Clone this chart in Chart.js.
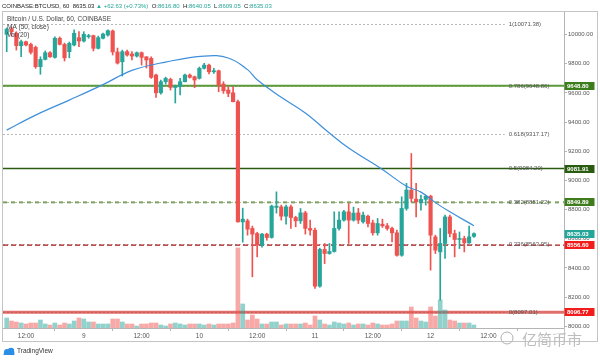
<!DOCTYPE html>
<html>
<head>
<meta charset="utf-8">
<script src="https://cdn.jsdelivr.net/npm/chart.js@4.4.1/dist/chart.umd.min.js"></script>
<style>
html, body { margin: 0; padding: 0; background: #ffffff; }
#wrap { width: 600px; height: 360px; position: relative; }
</style>
</head>
<body>
<div id="wrap"><canvas id="btc-chart" width="600" height="360"></canvas></div>
<script>
// Hourly candles, x = hours since Dec 8 00:00
const hours = [8, 9, 10, 11, 12, 13, 14, 15, 16, 17, 18, 19, 20, 21, 22, 23, 24, 25, 26, 27,
  28, 29, 30, 31, 32, 33, 34, 35, 36, 37, 38, 39, 40, 41, 42, 43, 44, 45, 46, 47,
  48, 49, 50, 51, 52, 53, 54, 55, 56, 57, 58, 59, 60, 61, 62, 63, 64, 65, 66, 67,
  68, 69, 70, 71, 72, 73, 74, 75, 76, 77, 78, 79, 80, 81, 82, 83, 84, 85, 86, 87,
  88, 89, 90, 91, 92, 93, 94, 95, 96, 97, 98, 99, 100, 101, 102, 103, 104, 105];

const opens = [10002, 10038, 10009, 9924, 9951, 9933, 9913, 9780, 9830, 9876, 9844, 9975, 9933, 9883, 9929, 9979, 9956, 9986, 9993, 9906,
  9975, 9997, 10025, 9881, 9814, 9883, 9867, 9853, 9876, 9848, 9837, 9723, 9601, 9677, 9693, 9637, 9643, 9677, 9723, 9711,
  9700, 9769, 9791, 9745, 9752, 9661, 9620, 9601, 9540, 8716, 8723, 8671, 8636, 8556, 8632, 8609, 8815, 8819, 8755, 8819,
  8746, 8723, 8778, 8671, 8659, 8275, 8527, 8499, 8513, 8671, 8728, 8785, 8728, 8778, 8716, 8755, 8709, 8641, 8700, 8689,
  8671, 8641, 8487, 8808, 8934, 8872, 8851, 8870, 8892, 8613, 8510, 8568, 8750, 8636, 8595, 8602, 8572, 8616.80];
const highs = [10045, 10052, 10020, 9963, 9956, 9942, 9922, 9848, 9888, 9884, 9984, 9984, 9942, 9949, 10032, 10020, 10020, 10002, 9997, 9990,
  10011, 10032, 10032, 9908, 9894, 9894, 9883, 9881, 9881, 9848, 9848, 9730, 9689, 9709, 9702, 9654, 9700, 9730, 9730, 9716,
  9778, 9803, 9798, 9769, 9757, 9677, 9643, 9643, 9551, 8810, 8735, 8687, 8645, 8638, 8638, 8831, 8922, 8831, 8831, 8831,
  8755, 8808, 8789, 8728, 8673, 8536, 8568, 8568, 8785, 8785, 8796, 8842, 8817, 8808, 8783, 8762, 8728, 8739, 8735, 8705,
  8680, 8659, 8888, 8980, 9185, 8980, 8899, 8899, 8899, 8625, 8671, 8762, 8762, 8659, 8647, 8618, 8687, 8640.05];
const lows = [9883, 9990, 9894, 9848, 9922, 9867, 9769, 9728, 9826, 9843, 9839, 9929, 9819, 9841, 9922, 9917, 9949, 9975, 9888, 9901,
  9970, 9990, 9860, 9798, 9716, 9853, 9826, 9846, 9791, 9771, 9700, 9570, 9592, 9661, 9620, 9531, 9586, 9675, 9702, 9636,
  9695, 9764, 9730, 9734, 9608, 9597, 9574, 9538, 8714, 8577, 8625, 8339, 8476, 8542, 8590, 8604, 8776, 8728, 8700, 8671,
  8682, 8705, 8632, 8625, 8259, 8268, 8430, 8494, 8508, 8659, 8721, 8568, 8721, 8705, 8707, 8682, 8625, 8625, 8678, 8659,
  8579, 8480, 8480, 8796, 8853, 8750, 8796, 8831, 8385, 8499, 8179, 8465, 8613, 8476, 8533, 8510, 8568, 8609.05];
const closes = [10038, 10020, 9924, 9951, 9929, 9879, 9780, 9830, 9876, 9848, 9975, 9933, 9841, 9940, 10009, 9956, 10002, 9993, 9906, 9979,
  10004, 10027, 9881, 9805, 9883, 9860, 9853, 9876, 9844, 9826, 9707, 9601, 9677, 9700, 9638, 9643, 9677, 9723, 9707, 9689,
  9769, 9791, 9745, 9752, 9654, 9615, 9597, 9540, 8716, 8735, 8666, 8632, 8556, 8632, 8609, 8824, 8824, 8755, 8819, 8746,
  8723, 8778, 8671, 8659, 8275, 8527, 8499, 8513, 8671, 8728, 8785, 8728, 8776, 8728, 8762, 8705, 8641, 8705, 8689, 8671,
  8641, 8487, 8808, 8934, 8877, 8853, 8870, 8892, 8625, 8522, 8568, 8750, 8636, 8595, 8602, 8572, 8613, 8635.03];
const volumes = [500, 350, 300, 250, 200, 250, 250, 400, 200, 150, 250, 150, 250, 200, 350, 500, 450, 300, 300, 200,
  200, 200, 450, 450, 300, 200, 200, 100, 200, 200, 250, 250, 150, 100, 200, 250, 200, 150, 200, 200,
  200, 150, 200, 150, 200, 200, 200, 250, 4000, 1200, 400, 650, 450, 200, 200, 300, 300, 150, 200, 200,
  200, 200, 250, 150, 600, 400, 200, 150, 300, 250, 200, 250, 150, 200, 200, 150, 250, 200, 150, 150,
  200, 350, 350, 350, 1050, 500, 350, 300, 1050, 600, 1400, 900, 400, 350, 250, 250, 250, 150];

// MA(50, close)
const maHours = [8, 14, 21, 28, 34, 41, 49, 54, 58, 60, 65, 70, 75, 79, 86, 91, 94, 97, 100, 105];
const maValues = [9345, 9448, 9551, 9657, 9755, 9812, 9853, 9840, 9760, 9690, 9570, 9463, 9325, 9222, 9075, 8960, 8920, 8848, 8785, 8690];

const priceTicks = [8000, 8200, 8400, 8600, 8800, 9000, 9200, 9400, 9600, 9800, 10000];
const timeTickHours = [12, 24, 36, 48, 60, 72, 84, 96, 108];
const timeTickLabels = ['12:00', '9', '12:00', '10', '12:00', '11', '12:00', '12', '12:00'];

const fibRatios = ['1', '0.786', '0.618', '0.5', '0.382', '0.236', '0'];
const fibPrices = [10071.38, 9648.86, 9317.17, 9084.20, 8851.22, 8563.95, 8097.01];

const levelPrices = [9648.80, 9081.91, 8849.89, 8556.60, 8096.77];
const lastPrice = 8635.03;

// styles
const UP = '#26a69a';
const DOWN = '#ef5350';
const FONT = '"Liberation Sans", Arial, sans-serif';
const fibEndHour = 111.4;
const levelStyles = [
  { color: '#5a9a38', width: 2, dash: [], box: '#3a7d1a' },
  { color: '#2a5c10', width: 1.5, dash: [], box: '#2a5c10' },
  { color: '#7aa35a', width: 2, dash: [4, 4], box: '#3f7d1c' },
  { color: '#a81818', width: 1.3, dash: [5, 3], box: '#f21c1c' },
  { color: 'rgba(214, 62, 58, 0.75)', width: 3, dash: [], box: '#f21c1c' }
];

const isUp = closes.map((c, i) => c >= opens[i]);
const candleColors = isUp.map(u => u ? UP : DOWN);
const volColors = isUp.map(u => u ? 'rgba(38, 166, 154, 0.5)' : 'rgba(239, 83, 80, 0.5)');

function line(ctx, x1, y1, x2, y2) {
  ctx.beginPath();
  ctx.moveTo(x1, y1);
  ctx.lineTo(x2, y2);
  ctx.stroke();
}

function box(ctx, yPix, text, bg) {
  const yc = Math.round(yPix);
  ctx.fillStyle = bg;
  ctx.fillRect(564.5, yc - 4, 30, 8);
  ctx.fillStyle = '#ffffff';
  ctx.font = 'bold 6px ' + FONT;
  ctx.textAlign = 'left';
  ctx.textBaseline = 'middle';
  ctx.fillText(text, 567, yc + 0.5);
}

const decor = {
  id: 'decor',
  beforeDatasetsDraw(chart) {
    const { ctx, chartArea: a, scales: { x, y } } = chart;
    ctx.save();
    ctx.beginPath();
    ctx.rect(a.left, a.top, a.right - a.left, a.bottom - a.top);
    ctx.clip();

    // fib retracement levels
    const xEnd = x.getPixelForValue(fibEndHour);
    ctx.strokeStyle = '#b8b8b8';
    ctx.lineWidth = 1;
    ctx.setLineDash([2, 2]);
    fibPrices.forEach(p => {
      const py = Math.round(y.getPixelForValue(p)) + 0.5;
      line(ctx, a.left, py, xEnd, py);
    });

    // horizontal lines drawn by hand on the chart
    levelPrices.forEach((p, i) => {
      const s = levelStyles[i];
      const py = y.getPixelForValue(p);
      ctx.strokeStyle = s.color;
      ctx.lineWidth = s.width;
      ctx.setLineDash(s.dash);
      line(ctx, a.left, py, a.right, py);
    });
    ctx.restore();
  },
  afterDraw(chart) {
    const { ctx, chartArea: a, scales: { x, y } } = chart;
    ctx.save();

    // fib labels
    ctx.font = '6px ' + FONT;
    ctx.fillStyle = '#555555';
    ctx.textAlign = 'left';
    ctx.textBaseline = 'middle';
    const xLab = x.getPixelForValue(fibEndHour) + 4;
    fibPrices.forEach((p, i) => {
      ctx.fillText(fibRatios[i] + '(' + p.toFixed(2) + ')', xLab, y.getPixelForValue(p) + 0.5);
    });

    // price boxes on the axis
    levelPrices.forEach((p, i) => box(ctx, y.getPixelForValue(p), p.toFixed(2), levelStyles[i].box));
    box(ctx, y.getPixelForValue(lastPrice), lastPrice.toFixed(2), UP);

    // frame
    ctx.strokeStyle = '#c4c4c4';
    ctx.lineWidth = 1;
    ctx.setLineDash([]);
    ctx.strokeRect(2.5, 11.5, 595, 330);
    line(ctx, a.right + 0.5, a.bottom, a.right + 0.5, 341.5);

    // header
    ctx.font = '6px ' + FONT;
    ctx.textBaseline = 'middle';
    const header = [
      ['COINBASE:BTCUSD, 60  ', '#222222'], ['8635.03 ', '#222222'], ['\u25B2 +62.63 (+0.73%)  ', UP],
      ['O:', '#222222'], ['8616.80  ', UP], ['H:', '#222222'], ['8640.05  ', UP],
      ['L:', '#222222'], ['8609.05  ', UP], ['C:', '#222222'], ['8635.03', UP]
    ];
    let hx = 2;
    header.forEach(([t, c]) => {
      ctx.fillStyle = c;
      ctx.fillText(t, hx, 6);
      hx += ctx.measureText(t).width;
    });

    // legend texts in the pane
    ctx.font = '6.5px ' + FONT;
    ctx.fillStyle = '#444444';
    ctx.fillText('Bitcoin / U.S. Dollar, 60, COINBASE', 7, 19);
    ctx.fillText('MA (50, close)', 7, 27.5);
    ctx.fillText('Vol (20)', 7, 35.5);

    // footer logo
    ctx.fillStyle = '#2a8ee6';
    ctx.beginPath();
    ctx.arc(7, 352, 3, Math.PI, 0);
    ctx.arc(11, 351, 3.2, Math.PI, 0);
    ctx.lineTo(14.5, 355);
    ctx.lineTo(3.5, 355);
    ctx.closePath();
    ctx.fill();
    ctx.fillStyle = '#333333';
    ctx.font = '6.5px ' + FONT;
    ctx.fillText('TradingView', 17, 351.5);

    // watermark
    ctx.strokeStyle = '#b0b0b0';
    ctx.beginPath();
    ctx.arc(507, 338, 6, 0, Math.PI * 2);
    ctx.stroke();
    ctx.fillStyle = '#bdbdbd';
    ctx.font = '15px "Noto Sans CJK SC", sans-serif';
    ctx.fillText('亿简币市', 522, 339);

    ctx.restore();
  }
};

const ctx = document.getElementById('btc-chart').getContext('2d');

new Chart(ctx, {
  type: 'bar',
  data: {
    datasets: [
      {
        label: 'Vol',
        data: hours.map((h, i) => ({ x: h, y: volumes[i] })),
        yAxisID: 'yVol',
        backgroundColor: volColors,
        barThickness: 4,
        grouped: false,
        order: 4
      },
      {
        label: 'Wick',
        data: hours.map((h, i) => ({ x: h, y: [lows[i], highs[i]] })),
        yAxisID: 'y',
        backgroundColor: candleColors,
        barThickness: 1,
        grouped: false,
        order: 3
      },
      {
        label: 'Body',
        data: hours.map((h, i) => ({ x: h, y: [opens[i], closes[i]] })),
        yAxisID: 'y',
        backgroundColor: candleColors,
        barThickness: 3.5,
        minBarLength: 1,
        grouped: false,
        order: 2
      },
      {
        type: 'line',
        label: 'MA (50, close)',
        data: maHours.map((h, i) => ({ x: h, y: maValues[i] })),
        yAxisID: 'y',
        borderColor: '#3d8fdb',
        borderWidth: 1.2,
        pointRadius: 0,
        tension: 0.4,
        order: 1
      }
    ]
  },
  options: {
    responsive: false,
    animation: false,
    layout: { padding: { left: 3, top: 12, right: 0, bottom: 18 } },
    plugins: { legend: { display: false }, tooltip: { enabled: false } },
    scales: {
      x: {
        type: 'linear',
        min: 7.23,
        max: 123.7,
        offset: false,
        grid: { display: true, drawOnChartArea: false, tickLength: 3, color: '#b5b5b5' },
        border: { color: '#b5b5b5' },
        ticks: {
          autoSkip: false,
          maxRotation: 0,
          padding: 1,
          color: '#555555',
          font: { family: FONT, size: 6.5 },
          callback: v => timeTickLabels[timeTickHours.indexOf(v)]
        },
        afterBuildTicks: s => { s.ticks = timeTickHours.map(v => ({ value: v })); },
        afterFit: s => { s.height = 14; }
      },
      y: {
        position: 'right',
        min: 7988.3,
        max: 10155.1,
        grid: { display: true, drawOnChartArea: false, tickLength: 3, color: '#b5b5b5' },
        border: { color: '#b5b5b5' },
        ticks: {
          padding: 1,
          color: '#555555',
          font: { family: FONT, size: 6 },
          callback: v => v.toFixed(2)
        },
        afterBuildTicks: s => { s.ticks = priceTicks.map(v => ({ value: v })); },
        afterFit: s => { s.width = 36; }
      },
      yVol: {
        display: false,
        min: 0,
        max: 15785
      }
    }
  },
  plugins: [decor]
});
</script>
</body>
</html>
